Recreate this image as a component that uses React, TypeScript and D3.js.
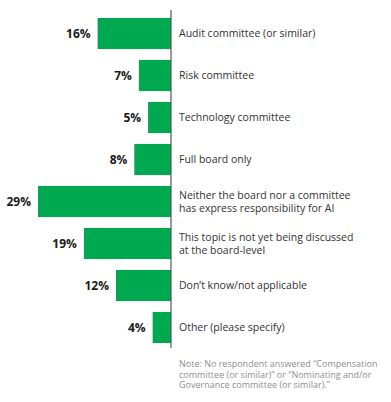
import React, { useRef, useEffect } from 'react';
import * as d3 from 'd3';

const categories: string[][] = [
  ['Audit committee (or similar)'],
  ['Risk committee'],
  ['Technology committee'],
  ['Full board only'],
  ['Neither the board nor a committee', 'has express responsibility for AI'],
  ['This topic is not yet being discussed', 'at the board-level'],
  ['Don\u2019t know/not applicable'],
  ['Other (please specify)'],
];
const values = [16, 7, 5, 8, 29, 19, 12, 4];
const noteLines = [
  'Note: No respondent answered \u201cCompensation',
  'committee (or similar)\u201d or \u201cNominating and/or',
  'Governance committee (or similar).\u201d',
];

const App = () => {
  const ref = useRef<SVGSVGElement | null>(null);
  const width = 391;
  const height = 402;

  useEffect(() => {
    if (!ref.current) {
      return;
    }
    const svg = d3.select(ref.current);
    svg.selectAll('*').remove();

    const axisX = 171;
    const ids = categories.map((_, i) => String(i));

    const x = d3.scaleLinear().domain([0, 29]).range([axisX, 38]);
    const y = d3
      .scaleBand()
      .domain(ids)
      .range([12.5, 348.5])
      .paddingInner(0.26)
      .paddingOuter(0.13);

    // bars
    svg
      .selectAll('.bar')
      .data(values)
      .join('rect')
      .attr('class', 'bar')
      .attr('x', (d) => x(d))
      .attr('y', (_, i) => y(String(i)) ?? 0)
      .attr('width', (d) => axisX - x(d))
      .attr('height', y.bandwidth())
      .attr('fill', '#00a94f');

    // value labels
    svg
      .selectAll('.val')
      .data(values)
      .join('text')
      .attr('class', 'val')
      .attr('x', (d) => x(d) - 7)
      .attr('y', (_, i) => (y(String(i)) ?? 0) + y.bandwidth() / 2)
      .attr('dy', '0.36em')
      .attr('text-anchor', 'end')
      .attr('font-family', '"Open Sans", sans-serif')
      .attr('font-weight', 700)
      .attr('font-size', 12)
      .attr('fill', '#1a1a1a')
      .text((d) => `${d}%`);

    // vertical axis line
    svg
      .append('line')
      .attr('x1', axisX)
      .attr('x2', axisX)
      .attr('y1', 10)
      .attr('y2', 348)
      .attr('stroke', '#555')
      .attr('stroke-width', 1.2);

    // category labels
    const labels = svg
      .selectAll('.cat')
      .data(categories)
      .join('text')
      .attr('class', 'cat')
      .attr('font-family', '"Open Sans", sans-serif')
      .attr('font-size', 10.5)
      .attr('fill', '#333');
    labels
      .selectAll('tspan')
      .data((d, i) => d.map((line, j) => ({ line, j, n: d.length, i })))
      .join('tspan')
      .attr('x', axisX + 8)
      .attr('y', (d) => (y(String(d.i)) ?? 0) + y.bandwidth() / 2 + (d.j - (d.n - 1) / 2) * 13)
      .attr('dy', '0.36em')
      .text((d) => d.line);

    // note
    svg
      .append('text')
      .attr('font-family', '"Open Sans", sans-serif')
      .attr('font-size', 9)
      .attr('fill', '#8f8f8f')
      .selectAll('tspan')
      .data(noteLines)
      .join('tspan')
      .attr('x', axisX + 8)
      .attr('y', (_, i) => 367 + i * 10.7)
      .text((d) => d);
  }, []);

  return (
    <div>
      <svg
        ref={ref}
        width={width}
        height={height}
        style={{ position: 'absolute', left: 0, top: 0, background: '#fff' }}
      />
    </div>
  );
};

export default App;
